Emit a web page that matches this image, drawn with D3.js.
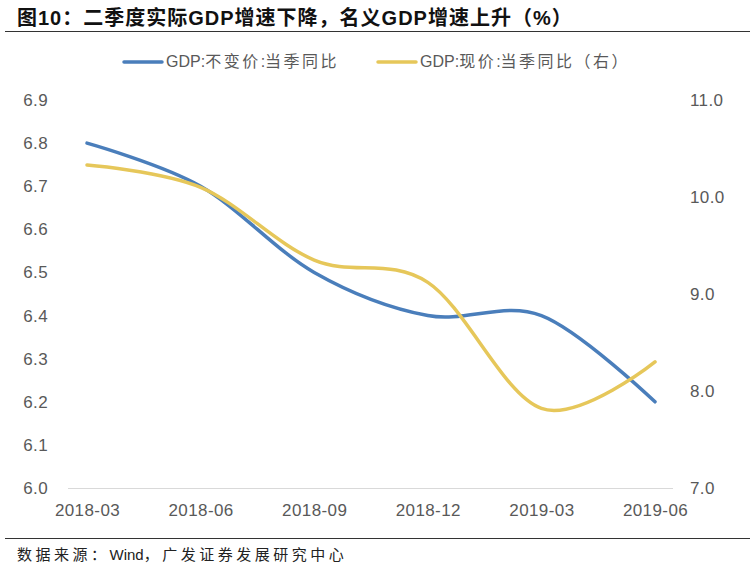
<!DOCTYPE html>
<html><head><meta charset="utf-8">
<script src="https://cdn.jsdelivr.net/npm/d3@7"></script>
<style>body{margin:0;background:#fff}svg{display:block}</style>
</head><body>
<svg id="c" width="755" height="565"></svg>
<script>
const categories = ["2018-03","2018-06","2018-09","2018-12","2019-03","2019-06"];
const realGDP = [6.8, 6.7, 6.5, 6.4, 6.4, 6.2];
const nominalGDP = [10.33, 10.1, 9.35, 9.12, 7.82, 8.3];
const leftTicks = [6.0,6.1,6.2,6.3,6.4,6.5,6.6,6.7,6.8,6.9];
const rightTicks = [7.0,8.0,9.0,10.0,11.0];
const seriesNames = ["GDP:不变价:当季同比","GDP:现价:当季同比（右）"];
const colors = ["#4a7ebb","#e6c75a"];
const FONT = "'Liberation Sans', Arial, 'Noto Sans CJK SC', sans-serif";

const svg = d3.select("#c");
const plotTop = 100, plotBottom = 488, plotLeft = 68, plotRight = 673;

const x = d3.scalePoint().domain(categories).range([87, 655]);
const yL = d3.scaleLinear().domain([6.0, 6.9]).range([plotBottom, plotTop]);
const yR = d3.scaleLinear().domain([7.0, 11.0]).range([plotBottom, plotTop]);

// text with spaced CJK glyphs and tight Latin glyphs
function spacedText(sel, str, cjkSpacing) {
  const runs = str.match(/[\u3000-\u9fff\uff00-\uffef]+|[^\u3000-\u9fff\uff00-\uffef]+/g);
  runs.forEach(r => {
    const cjk = /[\u3000-\u9fff\uff00-\uffef]/.test(r);
    sel.append("tspan").attr("letter-spacing", cjk ? cjkSpacing : 0).text(r);
  });
  return sel;
}

// title
svg.append("text").attr("x", 17).attr("y", 25).attr("font-family", FONT)
  .attr("font-size", 20).attr("font-weight", "bold").attr("fill", "#111")
  .attr("letter-spacing", 1)
  .text("图10：二季度实际GDP增速下降，名义GDP增速上升（%）");
svg.append("line").attr("x1", 5).attr("x2", 750).attr("y1", 31.5).attr("y2", 31.5)
  .attr("stroke", "#333").attr("stroke-width", 1.2);

// legend
const leg = [[124, 0], [378, 1]];
leg.forEach(([lx, i]) => {
  svg.append("line").attr("x1", lx).attr("x2", lx + 38).attr("y1", 62).attr("y2", 62)
    .attr("stroke", colors[i]).attr("stroke-width", 3.5).attr("stroke-linecap", "round");
  const t = svg.append("text").attr("x", lx + 42).attr("y", 67).attr("font-family", FONT)
    .attr("font-size", 16).attr("fill", "#595959");
  spacedText(t, seriesNames[i], 2.5);
});

// axes
const gL = svg.append("g").attr("transform", `translate(${plotLeft},0)`)
  .call(d3.axisLeft(yL).tickValues(leftTicks).tickFormat(d3.format(".1f")).tickSize(0).tickPadding(20));
const gR = svg.append("g").attr("transform", `translate(${plotRight},0)`)
  .call(d3.axisRight(yR).tickValues(rightTicks).tickFormat(d3.format(".1f")).tickSize(0).tickPadding(17));
const gX = svg.append("g").attr("transform", `translate(0,${plotBottom})`)
  .call(d3.axisBottom(x).tickSize(0).tickPadding(16));
[gL, gR, gX].forEach(g => {
  g.select(".domain").remove();
  g.selectAll("text").attr("font-family", FONT).attr("font-size", 17)
    .attr("letter-spacing", 0.4).attr("fill", "#595959");
});
svg.append("line").attr("x1", plotLeft).attr("x2", plotRight).attr("y1", plotBottom + 0.5).attr("y2", plotBottom + 0.5)
  .attr("stroke", "#d9d9d9").attr("stroke-width", 1);

// lines
const lineL = d3.line().x((d, i) => x(categories[i])).y(d => yL(d)).curve(d3.curveCardinal.tension(0));
const lineR = d3.line().x((d, i) => x(categories[i])).y(d => yR(d)).curve(d3.curveCardinal.tension(0));
svg.append("path").attr("d", lineL(realGDP)).attr("fill", "none").attr("stroke", colors[0])
  .attr("stroke-width", 3.5).attr("stroke-linecap", "round");
svg.append("path").attr("d", lineR(nominalGDP)).attr("fill", "none").attr("stroke", colors[1])
  .attr("stroke-width", 3.5).attr("stroke-linecap", "round");

// footer
svg.append("line").attr("x1", 5).attr("x2", 750).attr("y1", 538.5).attr("y2", 538.5)
  .attr("stroke", "#333").attr("stroke-width", 1.2);
const src = svg.append("text").attr("x", 17).attr("y", 560).attr("font-family", FONT)
  .attr("font-size", 15).attr("fill", "#222");
spacedText(src, "数据来源：Wind，广发证券发展研究中心", 3.5);
</script>
</body></html>
